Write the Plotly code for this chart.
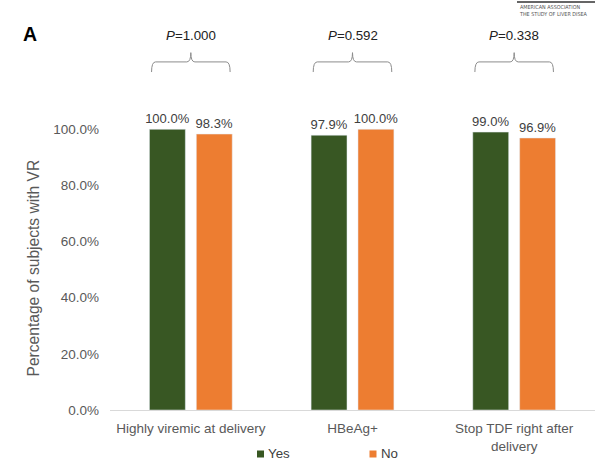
import plotly.graph_objects as go

categories = ["Highly viremic at delivery", "HBeAg+", "Stop TDF right after<br>delivery"]
yes_values = [100.0, 97.9, 99.0]
no_values = [98.3, 100.0, 96.9]
p_labels = ["1.000", "0.592", "0.338"]
ytick_vals = [0, 20, 40, 60, 80, 100]

green = "#385723"
orange = "#ED7D31"

# plot area in pixels
L, R, T, B = 110, 0, 17, 59
W, H = 595 - L - R, 469 - T - B


def px(x, y):
    # pixel position in the page -> paper coords
    return (x - L) / W, (469 - B - y) / H


fig = go.Figure()
fig.add_trace(go.Bar(x=categories, y=yes_values, name="Yes", marker_color=green,
                     text=["%.1f%%" % v for v in yes_values], textposition="outside",
                     constraintext="none", textfont=dict(size=13, color="#404040"),
                     cliponaxis=False, showlegend=False))
fig.add_trace(go.Bar(x=categories, y=no_values, name="No", marker_color=orange,
                     text=["%.1f%%" % v for v in no_values], textposition="outside",
                     constraintext="none", textfont=dict(size=13, color="#404040"),
                     cliponaxis=False, showlegend=False))

# brackets with P values above each group
for i, p in enumerate(p_labels):
    x0, x1, xc = i - 0.243, i + 0.243, i
    r = 0.025
    path = (f"M {x0},120.4 Q {x0},124 {x0 + r},124 L {xc - r},124 Q {xc},124 {xc},127.3 "
            f"Q {xc},124 {xc + r},124 L {x1 - r},124 Q {x1},124 {x1},120.4")
    fig.add_shape(type="path", path=path, xref="x", yref="y",
                  line=dict(color="#8c8c8c", width=1))
    fig.add_annotation(x=i, y=133.5, xref="x", yref="y", text="<i>P</i>=" + p,
                       showarrow=False, font=dict(size=13.3, color="#222222"))

# legend: small squares next to the labels
for name, col, xs in [("Yes", green, 257), ("No", orange, 369.5)]:
    a0, b0 = px(xs, 450.5)
    a1, b1 = px(xs + 7, 457.5)
    fig.add_shape(type="rect", xref="paper", yref="paper", x0=a0, x1=a1, y0=b0, y1=b1,
                  fillcolor=col, line=dict(width=0))
    tx, ty = px(xs + 9, 454)
    fig.add_annotation(x=tx, y=ty, xref="paper", yref="paper", xanchor="left", yanchor="middle",
                       text=name, showarrow=False, font=dict(size=13.3, color="#404040"))

ax, ay = px(20.5, 34)
fig.add_annotation(x=ax, y=ay, xref="paper", yref="paper", text="<b>A</b>", showarrow=False,
                   xanchor="left", yanchor="middle", font=dict(size=19.5, color="black"))

# publisher mark in the top right corner
lx, ly = px(517, 10)
fig.add_annotation(x=lx, y=ly, xref="paper", yref="paper", xanchor="left", yanchor="middle",
                   text="AMERICAN ASSOCIATION<br>THE STUDY OF LIVER DISEA", showarrow=False,
                   align="left",
                   font=dict(size=5.4, color="#555555",
                             family="Liberation Sans Narrow, DejaVu Sans Condensed, sans-serif"))
s0, sy = px(517, 2)
s1, _ = px(595, 2)
fig.add_shape(type="line", xref="paper", yref="paper", x0=s0, x1=s1, y0=sy, y1=sy,
              line=dict(color="#333333", width=1.5))

tx, ty = px(22, 268)
fig.add_annotation(x=tx, y=ty, xref="paper", yref="paper", textangle=-90,
                   text="Percentage of subjects with VR", showarrow=False,
                   font=dict(size=15.6, color="#595959"))

fig.update_layout(
    width=595, height=469,
    paper_bgcolor="white", plot_bgcolor="white",
    margin=dict(l=L, r=R, t=T, b=B, autoexpand=False),
    barmode="group", bargap=0.42, bargroupgap=0.234,
    font=dict(family="Liberation Sans, Arial, sans-serif", color="#595959"),
    showlegend=False,
    xaxis=dict(showline=True, linecolor="#d9d9d9", linewidth=1, ticks="",
               tickfont=dict(size=13.5, color="#595959"), range=[-0.5, 2.5],
               ticklabelstandoff=6, automargin=False),
    yaxis=dict(range=[0, 140], tickvals=ytick_vals,
               ticktext=["%.1f%%" % v for v in ytick_vals], showgrid=False, zeroline=False,
               tickfont=dict(size=13.5, color="#595959"), ticks="", ticklabelstandoff=10,
               automargin=False),
)

fig.write_html("out.html", config={"displayModeBar": False},
               post_script="document.body.style.margin='0';")
